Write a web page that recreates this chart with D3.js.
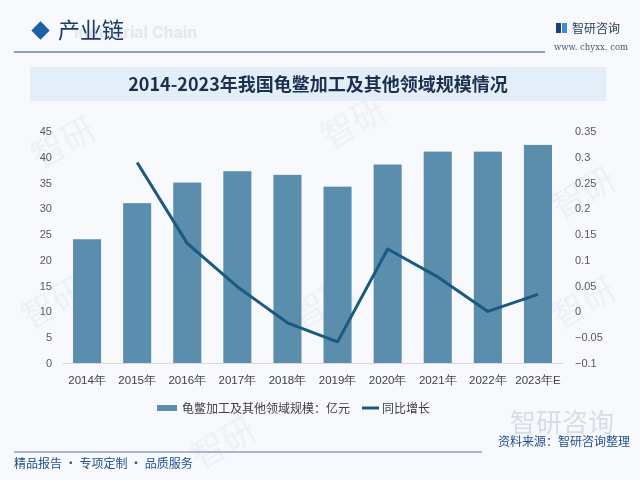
<!DOCTYPE html>
<html lang="zh">
<head>
<meta charset="UTF-8">
<title>2014-2023年我国龟鳖加工及其他领域规模情况</title>
<script src="https://d3js.org/d3.v7.min.js"></script>
<style>
  body { margin: 0; background: #f6f8fb; }
  svg { display: block; font-family: "Noto Sans CJK SC", "Noto Sans", sans-serif; }
</style>
</head>
<body>
<div id="chart"></div>
<script>
// data
const years = ["2014年", "2015年", "2016年", "2017年", "2018年", "2019年", "2020年", "2021年", "2022年", "2023年E"];
const scale = [24.0, 31.0, 35.0, 37.2, 36.5, 34.2, 38.5, 41.0, 41.0, 42.3];
const growth = [null, 0.289, 0.132, 0.048, -0.022, -0.059, 0.121, 0.067, 0.0, 0.033];
const leftTicks = [0, 5, 10, 15, 20, 25, 30, 35, 40, 45];
const rightTicks = [-0.1, -0.05, 0, 0.05, 0.1, 0.15, 0.2, 0.25, 0.3, 0.35];
const barName = "龟鳖加工及其他领域规模：亿元";
const lineName = "同比增长";

const W = 640, H = 480;
const barColor = "#5b8dac", lineColor = "#1a5a80";

const svg = d3.select("#chart").append("svg").attr("width", W).attr("height", H);

// background + faint watermarks
svg.append("rect").attr("width", W).attr("height", H).attr("fill", "#f7f9fc");
const wm = svg.append("g").attr("fill", "#e6ecf3").attr("opacity", 0.6);
[[40, 170], [330, 150], [560, 220], [30, 330], [300, 330], [560, 330], [200, 470]].forEach(([x, y]) => {
  wm.append("text").attr("x", x).attr("y", y).attr("transform", `rotate(-30,${x},${y})`)
    .style("font-size", "34px").text("智研");
});

// header
svg.append("text").attr("x", 74).attr("y", 38).attr("fill", "#e1e8ef")
  .style("font-size", "16px").style("font-weight", "bold").style("font-family", "Inter, sans-serif")
  .text("Industrial Chain");
svg.append("rect").attr("x", 34).attr("y", 24).attr("width", 13).attr("height", 13)
  .attr("transform", "rotate(45,40.5,30.5)").attr("fill", "#1a62a8");
svg.append("text").attr("x", 58).attr("y", 38).attr("fill", "#1c3b63")
  .style("font-size", "22px").text("产业链");
svg.append("line").attr("x1", 14).attr("x2", 545).attr("y1", 52).attr("y2", 52)
  .attr("stroke", "#8fa2b4").attr("stroke-width", 2);
// logo
const logo = svg.append("g");
logo.append("rect").attr("x", 556).attr("y", 23).attr("width", 5).attr("height", 10).attr("fill", "#1d3f7a");
logo.append("rect").attr("x", 562).attr("y", 23).attr("width", 5).attr("height", 10).attr("fill", "#3b8ed0");
logo.append("text").attr("x", 572).attr("y", 33).attr("fill", "#2c3d55").style("font-size", "12px").text("智研咨询");
logo.append("text").attr("x", 591).attr("y", 50).attr("text-anchor", "middle").attr("fill", "#4a5a6a")
  .style("font-family", "'DejaVu Serif', serif").style("font-size", "8.5px").text("www. chyxx. com");

// title banner
svg.append("rect").attr("x", 30).attr("y", 67).attr("width", 576).attr("height", 34).attr("fill", "#e4eef8");
svg.append("text").attr("x", 318).attr("y", 91).attr("text-anchor", "middle").attr("fill", "#1b2f4f")
  .style("font-size", "18px").style("font-weight", "bold")
  .text("2014-2023年我国龟鳖加工及其他领域规模情况");

// plot area
const margin = { left: 62, right: 77, top: 131, bottom: 117 };
const x = d3.scaleBand().domain(years).range([margin.left, W - margin.right]).paddingInner(0.44).paddingOuter(0.22);
const y = d3.scaleLinear().domain([0, 45]).range([H - margin.bottom, margin.top]);
const y2 = d3.scaleLinear().domain([-0.1, 0.35]).range([H - margin.bottom, margin.top]);

svg.selectAll(".bar").data(scale).enter().append("rect")
  .attr("class", "bar")
  .attr("x", (d, i) => x(years[i]))
  .attr("width", x.bandwidth())
  .attr("y", d => y(d))
  .attr("height", d => y(0) - y(d))
  .attr("fill", barColor);

// axes
const ax = svg.append("g").attr("transform", `translate(0,${y(0)})`)
  .call(d3.axisBottom(x).tickSize(0).tickPadding(13));
ax.select(".domain").attr("stroke", "#d9d9d9");
ax.selectAll("text").attr("fill", "#404040").style("font-size", "11.5px");

const ay = svg.append("g").attr("transform", `translate(${margin.left - 10},0)`)
  .call(d3.axisLeft(y).tickValues(leftTicks).tickSize(0).tickPadding(0));
ay.select(".domain").remove();
ay.selectAll("text").attr("fill", "#595959").style("font-size", "11px");

const ay2 = svg.append("g").attr("transform", `translate(${W - margin.right + 12},0)`)
  .call(d3.axisRight(y2).tickValues(rightTicks).tickFormat(d => d3.format("")(+d.toFixed(2))).tickSize(0).tickPadding(0));
ay2.select(".domain").remove();
ay2.selectAll("text").attr("fill", "#595959").style("font-size", "11px");

// growth line
const line = d3.line()
  .defined(d => d !== null)
  .x((d, i) => x(years[i]) + x.bandwidth() / 2)
  .y(d => y2(d));
svg.append("path").datum(growth)
  .attr("fill", "none").attr("stroke", lineColor).attr("stroke-width", 3)
  .attr("stroke-linejoin", "round").attr("d", line);

// legend
const lg = svg.append("g").attr("transform", "translate(157,408)");
lg.append("rect").attr("x", 0).attr("y", -3).attr("width", 20).attr("height", 6).attr("fill", barColor);
lg.append("text").attr("x", 25).attr("y", 4.5).attr("fill", "#404040").style("font-size", "12px").text(barName);
lg.append("line").attr("x1", 205).attr("x2", 222).attr("y1", 0).attr("y2", 0).attr("stroke", lineColor).attr("stroke-width", 3);
lg.append("text").attr("x", 225).attr("y", 4.5).attr("fill", "#404040").style("font-size", "12px").text(lineName);

// footer
svg.append("text").attr("x", 562).attr("y", 432).attr("text-anchor", "middle").attr("fill", "#d6dde4")
  .style("font-size", "26px").text("智研咨询");
svg.append("line").attr("x1", 14).attr("x2", 482).attr("y1", 452).attr("y2", 452)
  .attr("stroke", "#8fa2b4").attr("stroke-width", 1.5);
svg.append("text").attr("x", 630).attr("y", 446).attr("text-anchor", "end").attr("fill", "#1d4f8c")
  .style("font-size", "12px").text("资料来源：智研咨询整理");
svg.append("text").attr("x", 14).attr("y", 468).attr("fill", "#1d4f8c")
  .style("font-size", "12px").text("精品报告 · 专项定制 · 品质服务");
</script>
</body>
</html>
